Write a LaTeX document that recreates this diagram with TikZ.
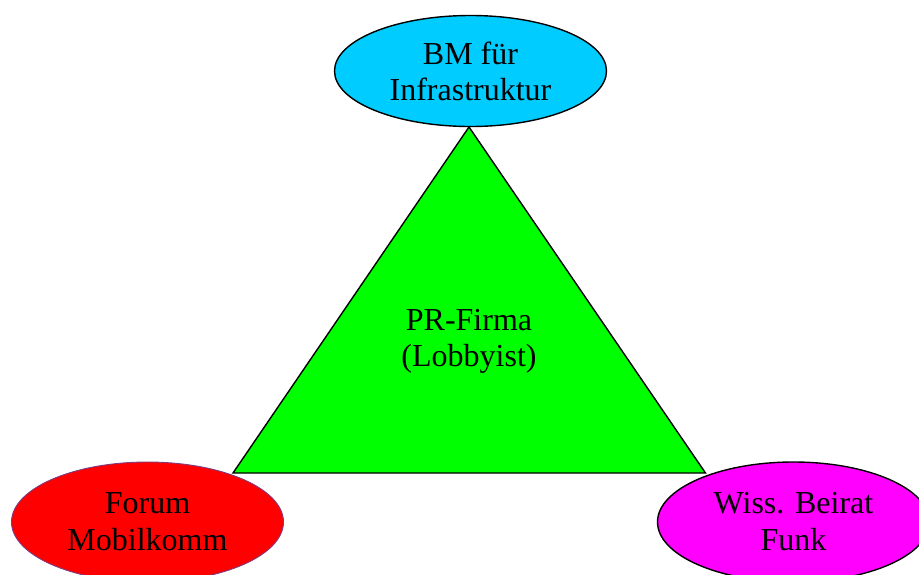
\documentclass[tikz,border=0pt]{standalone}
\usepackage{fontspec}
\setmainfont{Liberation Serif}
\usetikzlibrary{shapes}
\definecolor{bmblue}{RGB}{0,204,255}
\definecolor{prgreen}{RGB}{0,255,0}
\definecolor{forumred}{RGB}{255,0,0}
\definecolor{beiratpink}{RGB}{255,0,255}
\definecolor{forumedge}{RGB}{125,60,125}
\tikzstyle{party} = [ellipse,draw=black,line width=1.4pt,inner sep=0pt,
minimum width=272pt, minimum height=111pt, align=center,
font=\fontsize{32}{36}\selectfont]
\tikzstyle{lower} = [party, minimum height=120pt, font=\fontsize{32}{37}\selectfont]
\tikzstyle{firm} = [draw=black,line width=1.4pt,fill=prgreen]
\tikzstyle{caption} = [align=center, inner sep=0pt, font=\fontsize{32}{36}\selectfont]

\begin{document}
\begin{tikzpicture}[x=1pt,y=-1pt]
  \useasboundingbox (0,0) rectangle (919,574);
  \node[party, fill=bmblue] (bm) at (470.5,71) {BM für\\Infrastruktur};
  \node[lower, fill=forumred, draw=forumedge, line width=0.9pt] (forum) at (147.5,522) {Forum\\Mobilkomm};
  \node[lower, fill=beiratpink] (beirat) at (793.5,522) {Wiss. Beirat\\Funk};

  \coordinate (top) at (469,127);
  \coordinate (left) at (233,473);
  \coordinate (right) at (705.5,473);
  \draw[firm] (top) -- (right) -- (left) -- cycle;

  \node[caption] (pr) at (469,341) {PR-Firma\\(Lobbyist)};
\end{tikzpicture}
\end{document}
